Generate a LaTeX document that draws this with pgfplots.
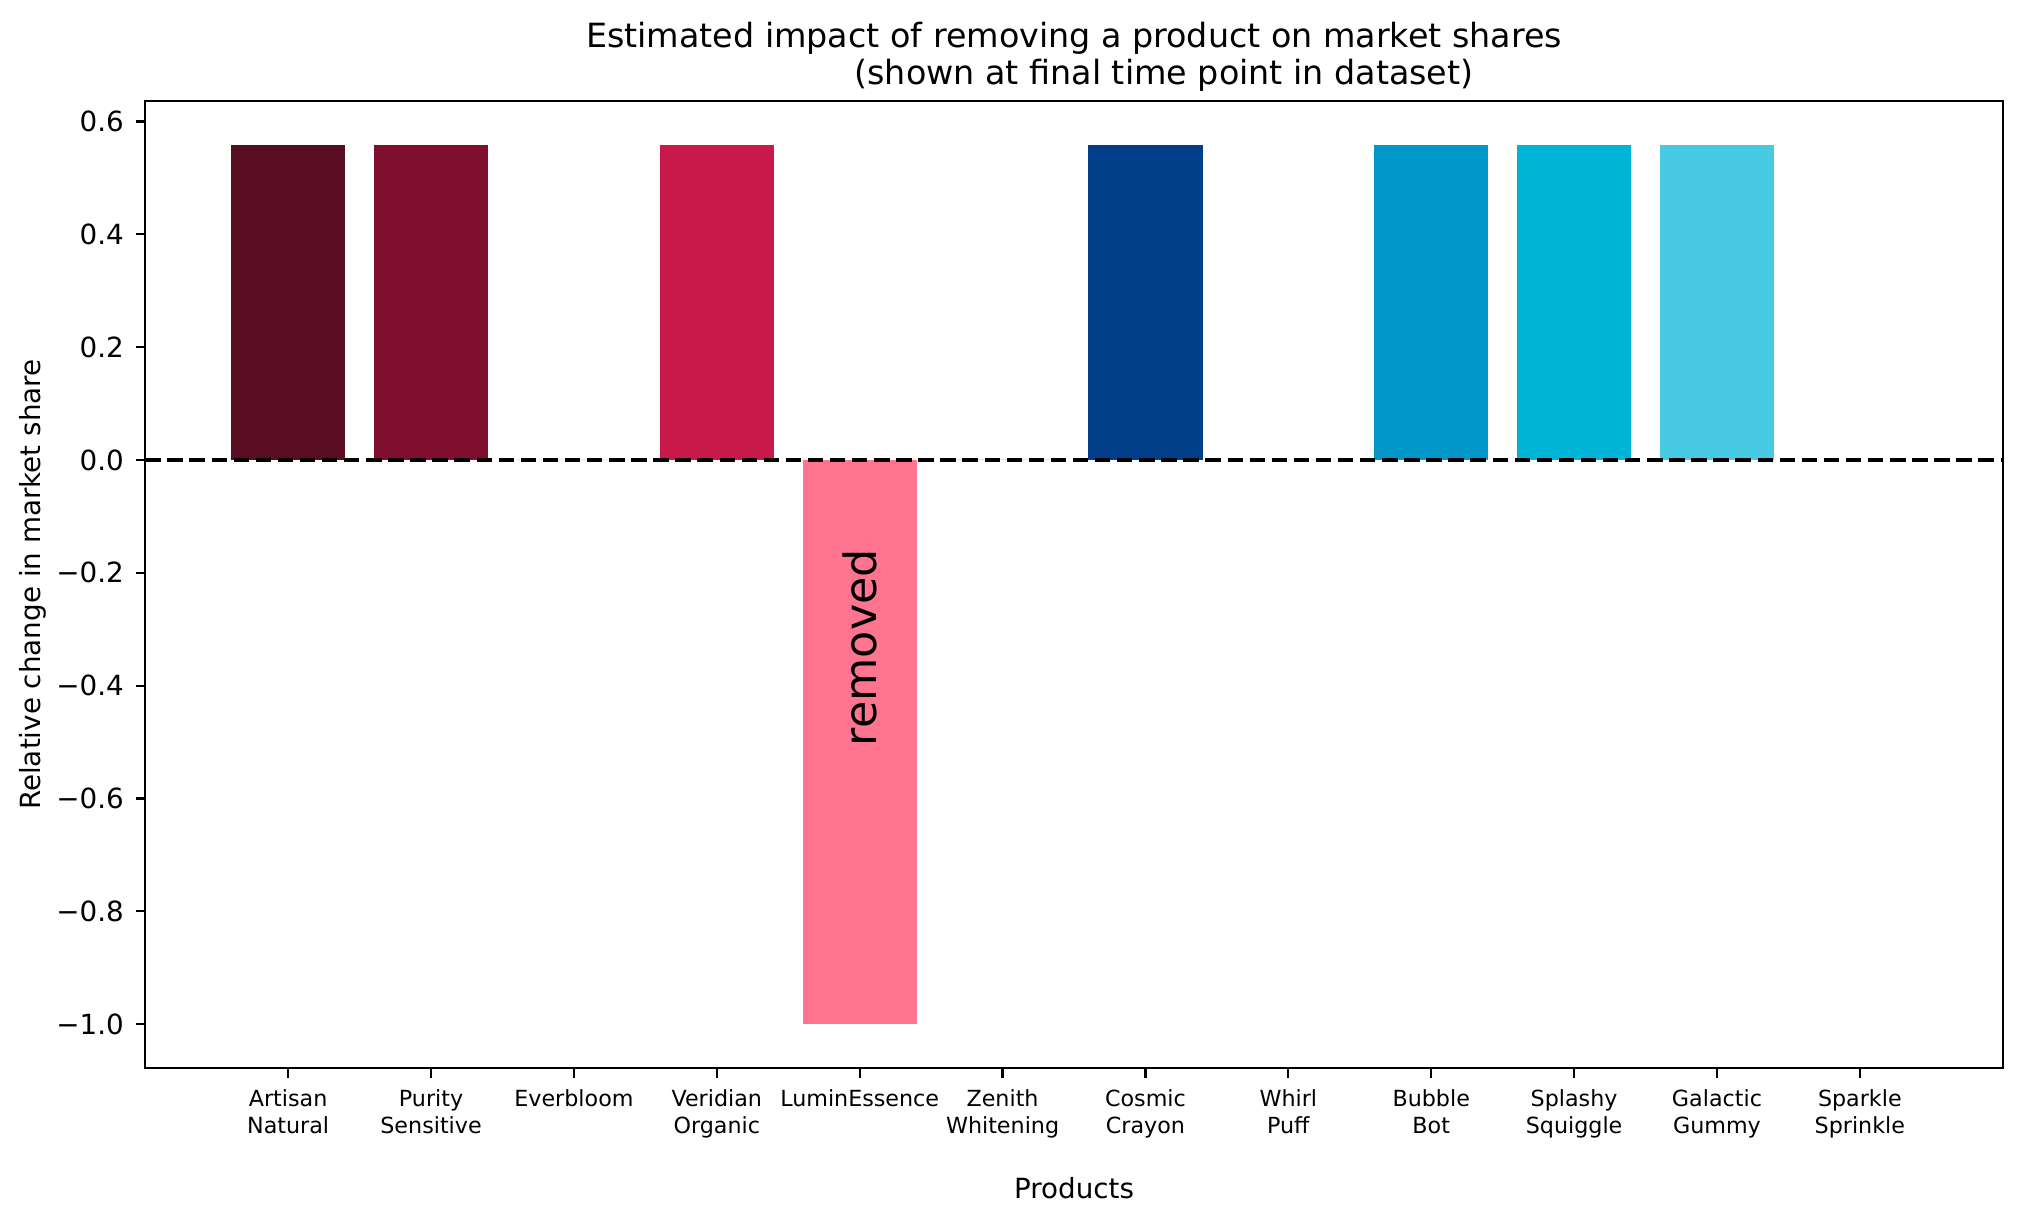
\documentclass[border=0pt]{standalone}
\usepackage{fontspec}
\setmainfont{DejaVu Sans}
\usepackage{pgfplots}
\pgfplotsset{compat=1.18}
\definecolor{cA}{HTML}{590D22}
\definecolor{cB}{HTML}{800F2F}
\definecolor{cC}{HTML}{A4133C}
\definecolor{cD}{HTML}{C9184A}
\definecolor{cE}{HTML}{FF758F}
\definecolor{cF}{HTML}{03045E}
\definecolor{cG}{HTML}{023E8A}
\definecolor{cH}{HTML}{0077B6}
\definecolor{cI}{HTML}{0096C7}
\definecolor{cJ}{HTML}{00B4D8}
\definecolor{cK}{HTML}{48CAE4}
\definecolor{cL}{HTML}{90E0EF}
\begin{document}
\begin{tikzpicture}
\path[use as bounding box] (-52.3pt,-55.8pt) rectangle (675.9pt,384.5pt);
\begin{axis}[
  at={(0pt,0pt)}, anchor=south west,
  scale only axis, width=668.6pt, height=348.1pt,
  xmin=-1, xmax=12, ymin=-1.078, ymax=0.636,
  axis line style={line width=0.8pt, black},
  tick style={line width=0.8pt, black},
  major tick length=3.5pt,
  tick align=outside, tick pos=left,
  /pgf/number format/assume math mode=true,
  xtick={0,1,2,3,4,5,6,7,8,9,10,11},
  xticklabels={{Artisan\\Natural},{Purity\\Sensitive},{Everbloom},{Veridian\\Organic},{LuminEssence},{Zenith\\Whitening},{Cosmic\\Crayon},{Whirl\\Puff},{Bubble\\Bot},{Splashy\\Squiggle},{Galactic\\Gummy},{Sparkle\\Sprinkle}},
  xticklabel style={align=center, anchor=north, inner sep=0pt, yshift=-4pt, font=\fontsize{8}{9.6}\selectfont},
  ytick={-1.0,-0.8,-0.6,-0.4,-0.2,0,0.2,0.4,0.6},
  yticklabels={−1.0,−0.8,−0.6,−0.4,−0.2,0.0,0.2,0.4,0.6},
  yticklabel style={anchor=east, inner xsep=4pt, inner ysep=0pt, font=\fontsize{10}{12}\selectfont},
  xlabel={Products},
  xlabel style={at={(axis description cs:0.5,-0.1346)}, anchor=base, inner sep=0pt, font=\fontsize{10}{12}\selectfont},
  ylabel={Relative change in market share},
  ylabel style={at={(axis description cs:-0.0566,0.5)}, anchor=base, inner sep=0pt, font=\fontsize{10}{12}\selectfont},
  title={Estimated impact of removing a product on market shares\\\hspace*{64.8pt}(shown at final time point in dataset)},
  title style={at={(axis description cs:0.5,1)}, anchor=south, inner sep=0pt, yshift=-2.8pt, align=center, font=\fontsize{12}{13.3}\selectfont},
  clip=false,
]
\addplot[ybar, bar width=0.8, bar shift=0pt, fill=cA, draw=none] coordinates {(0,0.558)};
\addplot[ybar, bar width=0.8, bar shift=0pt, fill=cB, draw=none] coordinates {(1,0.558)};
\addplot[ybar, bar width=0.8, bar shift=0pt, fill=cC, draw=none] coordinates {(2,0)};
\addplot[ybar, bar width=0.8, bar shift=0pt, fill=cD, draw=none] coordinates {(3,0.558)};
\addplot[ybar, bar width=0.8, bar shift=0pt, fill=cE, draw=none] coordinates {(4,-1.0)};
\addplot[ybar, bar width=0.8, bar shift=0pt, fill=cF, draw=none] coordinates {(5,0)};
\addplot[ybar, bar width=0.8, bar shift=0pt, fill=cG, draw=none] coordinates {(6,0.558)};
\addplot[ybar, bar width=0.8, bar shift=0pt, fill=cH, draw=none] coordinates {(7,0)};
\addplot[ybar, bar width=0.8, bar shift=0pt, fill=cI, draw=none] coordinates {(8,0.558)};
\addplot[ybar, bar width=0.8, bar shift=0pt, fill=cJ, draw=none] coordinates {(9,0.558)};
\addplot[ybar, bar width=0.8, bar shift=0pt, fill=cK, draw=none] coordinates {(10,0.558)};
\addplot[ybar, bar width=0.8, bar shift=0pt, fill=cL, draw=none] coordinates {(11,0)};
\addplot[black, line width=1.5pt, dash pattern=on 5.55pt off 2.4pt] coordinates {(-1,0) (12,0)};
\node[rotate=90, anchor=west, inner sep=0pt, font=\fontsize{16}{19}\selectfont] at (axis cs:4,-0.508) {removed};
\end{axis}
\end{tikzpicture}
\end{document}
